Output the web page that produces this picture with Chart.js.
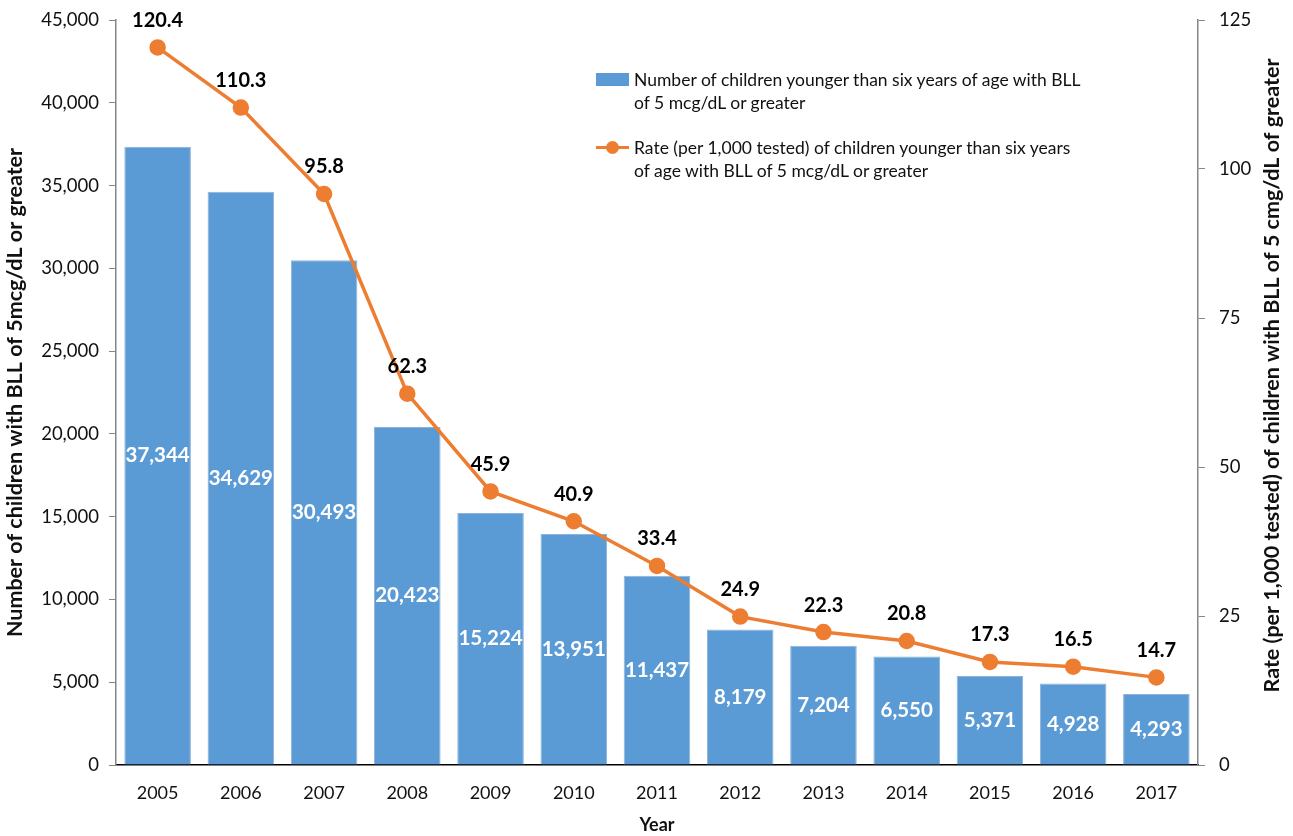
<!DOCTYPE html>
<html>
<head>
<meta charset="utf-8">
<title>Children with elevated blood lead levels, 2005-2017</title>
<script src="https://cdn.jsdelivr.net/npm/chart.js@4.4.1/dist/chart.umd.min.js"></script>
<style>
  html, body { margin: 0; padding: 0; background: #fff; }
  #wrap { position: relative; width: 1293px; height: 836px; }
  #legend {
    position: absolute; left: 596px; top: 68px;
    font-family: Lato, "Noto Sans", sans-serif; font-size: 17.5px; color: #111;
  }
  .item { display: flex; align-items: flex-start; margin-bottom: 22px; line-height: 23px; }
  .key { width: 33px; height: 23px; position: relative; margin-right: 5px; flex: none; }
  .key .box { position: absolute; left: 0; top: 5px; width: 33px; height: 13px; }
  .key .ln { position: absolute; left: 0; top: 10px; width: 33px; height: 3px; }
  .key .dot { position: absolute; left: 10px; top: 5px; width: 13px; height: 13px; border-radius: 50%; }
</style>
</head>
<body>
<div id="wrap">
  <canvas id="chart"></canvas>
  <div id="legend"></div>
</div>
<script>
// Années
const years = ['2005', '2006', '2007', '2008', '2009', '2010', '2011', '2012', '2013', '2014', '2015', '2016', '2017'];

// Nombre d'enfants (< 6 ans) avec BLL >= 5 mcg/dL
const childCounts = [37344, 34629, 30493, 20423, 15224, 13951, 11437, 8179, 7204, 6550, 5371, 4928, 4293];

// Taux pour 1 000 enfants testés
const childRates = [120.4, 110.3, 95.8, 62.3, 45.9, 40.9, 33.4, 24.9, 22.3, 20.8, 17.3, 16.5, 14.7];

const countLabel = ['Number of children younger than six years of age with BLL', 'of 5 mcg/dL or greater'];
const rateLabel = ['Rate (per 1,000 tested) of children younger than six years', 'of age with BLL of 5 mcg/dL or greater'];
const rateAxisTitle = 'Rate (per 1,000 tested) of children with BLL of 5 cmg/dL of greater';

const blue = '#5B9BD5';
const orange = '#ED7D31';
const fontFamily = 'Lato, "Noto Sans", sans-serif';

// Étiquettes de valeurs (barres au milieu, points au-dessus)
const valueLabels = {
    id: 'valueLabels',
    afterDatasetsDraw(chart) {
        const ctx = chart.ctx;
        ctx.save();
        ctx.textAlign = 'center';
        ctx.textBaseline = 'middle';

        const barMeta = chart.getDatasetMeta(1);
        ctx.font = 'bold 20.5px ' + fontFamily;
        ctx.fillStyle = '#fff';
        barMeta.data.forEach((bar, i) => {
            ctx.fillText(childCounts[i].toLocaleString('en-US'), bar.x, (bar.y + bar.base) / 2);
        });

        const lineMeta = chart.getDatasetMeta(0);
        ctx.font = 'bold 20px ' + fontFamily;
        ctx.fillStyle = '#000';
        lineMeta.data.forEach((pt, i) => {
            ctx.fillText(childRates[i].toFixed(1), pt.x, pt.y - 27);
        });
        ctx.restore();
    }
};

// Titre de l'axe de droite, lu de bas en haut comme celui de gauche
const rightTitle = {
    id: 'rightTitle',
    afterDraw(chart) {
        const ctx = chart.ctx;
        const area = chart.chartArea;
        ctx.save();
        ctx.translate(1272, (area.top + area.bottom) / 2 - 17);
        ctx.rotate(-Math.PI / 2);
        ctx.textAlign = 'center';
        ctx.textBaseline = 'middle';
        ctx.font = 'bold 21.5px ' + fontFamily;
        ctx.fillStyle = '#111';
        ctx.fillText(rateAxisTitle, 0, 0);
        ctx.restore();
    }
};

// Pas de marge ajoutée au-dessus pour la première étiquette de graduation
function fixSide(width) {
    return scale => {
        scale.width = width;
        scale.paddingTop = 0;
        scale.paddingBottom = 0;
    };
}

const ctx = document.getElementById('chart').getContext('2d');
const chart = new Chart(ctx, {
    type: 'bar',
    data: {
        labels: years,
        datasets: [
            {
                type: 'line',
                label: rateLabel.join(' '),
                data: childRates,
                yAxisID: 'yRate',
                borderColor: orange,
                backgroundColor: orange,
                borderWidth: 3.5,
                pointRadius: 6.5,
                pointBackgroundColor: orange,
                pointBorderColor: orange,
                tension: 0,
                order: 0
            },
            {
                type: 'bar',
                label: countLabel.join(' '),
                data: childCounts,
                yAxisID: 'yCount',
                backgroundColor: blue,
                borderColor: '#8fb3d8',
                borderWidth: 1,
                barPercentage: 0.8,
                categoryPercentage: 1,
                order: 1
            }
        ]
    },
    options: {
        responsive: true,
        maintainAspectRatio: false,
        animation: false,
        layout: { padding: { top: 20, left: 0, right: 0, bottom: 0 } },
        plugins: {
            legend: { display: false },
            tooltip: { enabled: false }
        },
        scales: {
            x: {
                grid: { display: false, drawTicks: false },
                border: { color: '#000', width: 1.5 },
                ticks: { color: '#111', padding: 17, font: { family: fontFamily, size: 18 } },
                title: {
                    display: true, text: 'Year', color: '#111',
                    font: { family: fontFamily, size: 18, weight: 'bold' },
                    padding: { top: 0, bottom: 0 }
                },
                afterFit(scale) { scale.height = 71; }
            },
            yCount: {
                position: 'left',
                min: 0, max: 45000,
                ticks: {
                    stepSize: 5000, color: '#111', padding: 10,
                    font: { family: fontFamily, size: 18.5 },
                    callback: v => v.toLocaleString('en-US')
                },
                grid: { drawOnChartArea: false, tickLength: 7, color: '#868686' },
                border: { color: '#868686', width: 1.5 },
                title: {
                    display: true, text: 'Number of children with BLL of 5mcg/dL or greater', color: '#111',
                    font: { family: fontFamily, size: 21.5, weight: 'bold' },
                    padding: { top: 2, bottom: 0 }
                },
                afterFit: fixSide(116)
            },
            yRate: {
                position: 'right',
                min: 0, max: 125,
                ticks: { stepSize: 25, color: '#111', padding: 14, font: { family: fontFamily, size: 18.5 } },
                grid: { drawOnChartArea: false, tickLength: 7, color: '#868686' },
                border: { color: '#868686', width: 1.5 },
                title: { display: false },
                afterFit: fixSide(95)
            }
        }
    },
    plugins: [valueLabels, rightTitle]
});

// Légende HTML (placée dans la zone du graphique)
const legendEl = document.getElementById('legend');
[
    { lines: countLabel, kind: 'bar' },
    { lines: rateLabel, kind: 'line' }
].forEach(entry => {
    const item = document.createElement('div');
    item.className = 'item';
    const key = document.createElement('div');
    key.className = 'key';
    if (entry.kind === 'bar') {
        key.innerHTML = '<div class="box" style="background:' + blue + '"></div>';
    } else {
        key.innerHTML = '<div class="ln" style="background:' + orange + '"></div><div class="dot" style="background:' + orange + '"></div>';
    }
    const text = document.createElement('div');
    text.innerHTML = entry.lines.join('<br>');
    item.appendChild(key);
    item.appendChild(text);
    legendEl.appendChild(item);
});
</script>
</body>
</html>
